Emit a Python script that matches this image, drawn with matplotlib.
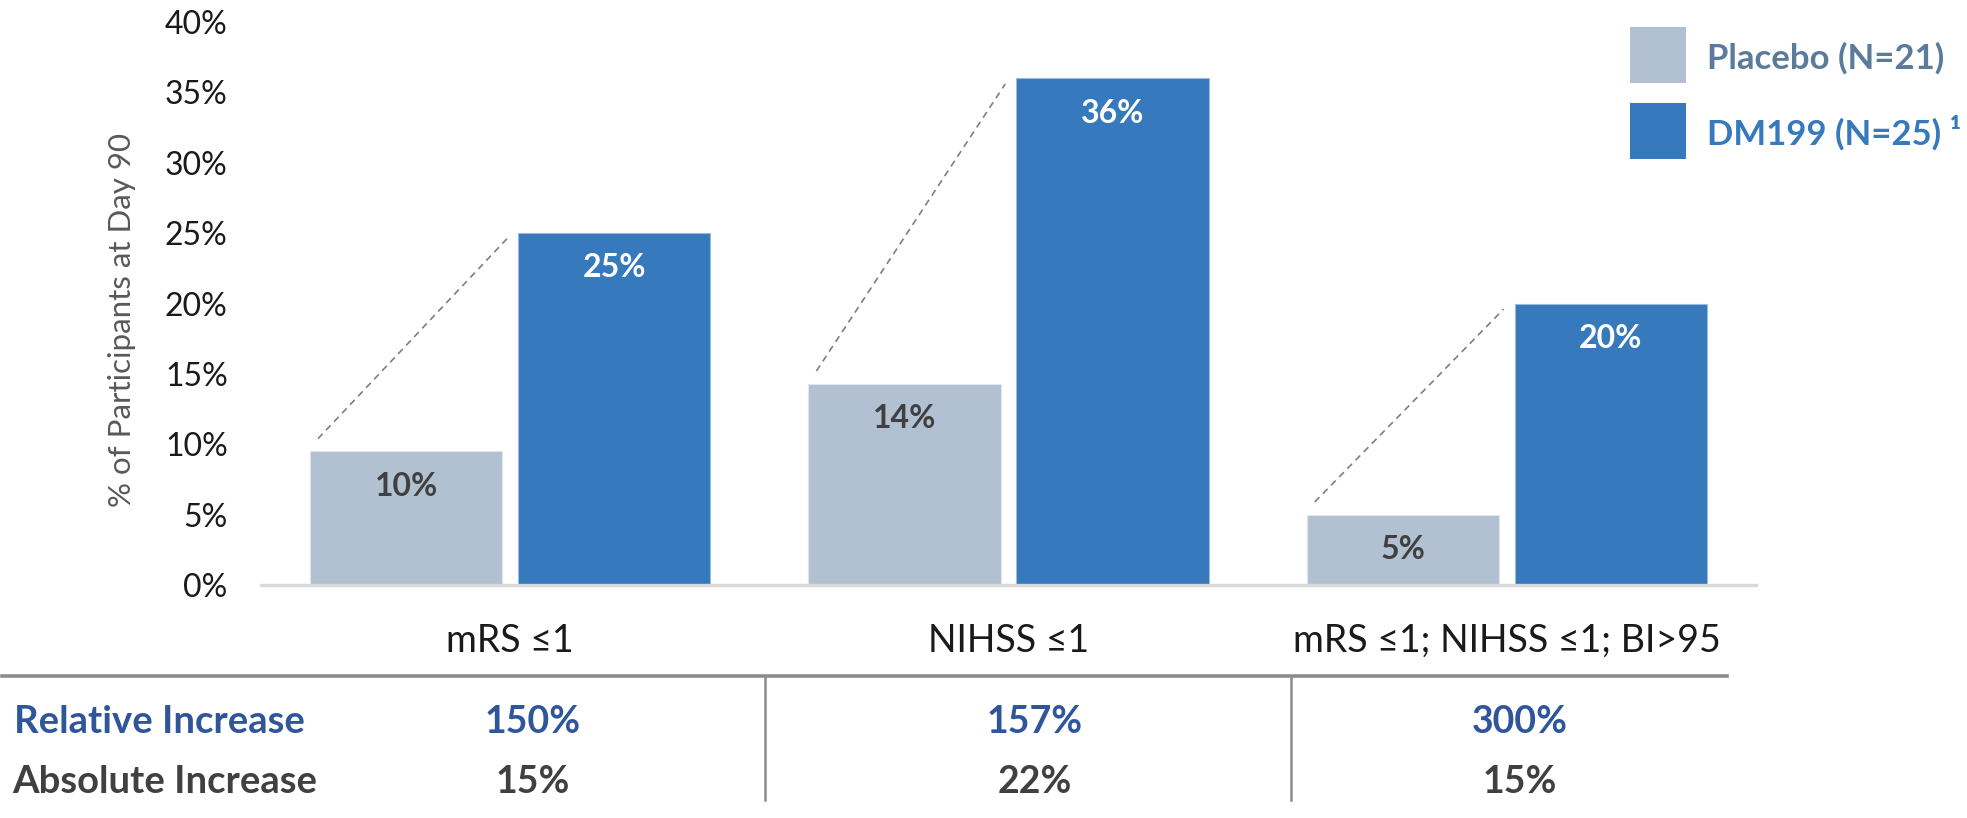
#!/usr/bin/env python3
"""Day-90 outcomes: Placebo vs DM199 grouped bars with an increase table below."""

import matplotlib

matplotlib.use("Agg")
import matplotlib.pyplot as plt  # noqa: E402
import numpy as np  # noqa: E402
from matplotlib.lines import Line2D  # noqa: E402
from matplotlib.patches import Rectangle  # noqa: E402
from matplotlib.transforms import blended_transform_factory  # noqa: E402

plt.rcParams["font.family"] = ["Lato", "DejaVu Sans"]

# ---------------------------------------------------------------------------
# Data
# ---------------------------------------------------------------------------
categories = ["mRS \u22641", "NIHSS \u22641", "mRS \u22641; NIHSS \u22641; BI>95"]
placebo = [9.5, 14.3, 5.0]
dm199 = [25.0, 36.0, 20.0]
placebo_labels = ["10%", "14%", "5%"]
dm199_labels = ["25%", "36%", "20%"]
relative_increase = ["150%", "157%", "300%"]
absolute_increase = ["15%", "22%", "15%"]
yticks = [0, 5, 10, 15, 20, 25, 30, 35, 40]
series_names = ["Placebo (N=21)", "DM199 (N=25) \u00b9"]

PLACEBO_COLOR = "#b1c1d1"
DM_COLOR = "#3679bc"
REL_COLOR = "#2f569b"
DARK = "#404040"

W, H = 1967, 818


def fx(px):
    return px / W


def fy(py):
    return 1 - py / H


fig = plt.figure(figsize=(W / 100, H / 100), dpi=100)
ax = fig.add_axes([fx(261), fy(585), fx(1756) - fx(261), fy(22) - fy(585)])

xs = np.arange(len(categories))
bw = 0.386
off = 0.2085
ax.bar(xs - off, placebo, width=bw, color=PLACEBO_COLOR, edgecolor="#dfe6ee", linewidth=0.8)
ax.bar(xs + off, dm199, width=bw, color=DM_COLOR, edgecolor="#9bbbdc", linewidth=0.8)

for i in range(len(categories)):
    ax.annotate(placebo_labels[i], (xs[i] - off, placebo[i]), xytext=(0, -25),
                textcoords="offset points", ha="center", va="center",
                fontsize=23, fontweight="bold", color=DARK)
    ax.annotate(dm199_labels[i], (xs[i] + off, dm199[i]), xytext=(0, -25),
                textcoords="offset points", ha="center", va="center",
                fontsize=23, fontweight="bold", color="white")
    # dashed connector from placebo top-left to DM199 top-left
    ax.plot([xs[i] - off - bw / 2 + 0.016, xs[i] + off - bw / 2 - 0.022],
            [placebo[i] + 0.9, dm199[i] - 0.4],
            color="#7f7f7f", linewidth=1.2, dashes=(4, 3))

ax.set_xlim(-0.5, 2.5)
ax.set_ylim(0, 40)
ax.set_yticks(yticks)
ax.set_yticklabels([f"{v}%" for v in yticks], fontsize=23, color="#1a1a1a")
ax.tick_params(axis="y", length=0, pad=24)
ax.set_xticks([])
for s in ("top", "right", "left"):
    ax.spines[s].set_visible(False)
ax.spines["bottom"].set_color("#d9d9d9")
ax.spines["bottom"].set_linewidth(2.4)

fig.text(fx(122), fy(320), "% of Participants at Day 90", rotation=90,
         ha="center", va="center", fontsize=22.5, color="#595959")

# category labels below the axis
tr = blended_transform_factory(ax.transData, fig.transFigure)
for i, cat in enumerate(categories):
    ax.text(xs[i], fy(652), cat, transform=tr, ha="center", va="baseline",
            fontsize=27, color="#1a1a1a")

# ---------------------------------------------------------------------------
# Table below
# ---------------------------------------------------------------------------
fig.add_artist(Line2D([fx(2), fx(1727)], [fy(676), fy(676)], color="#8c8c8c", linewidth=2.6))
for sx in (765, 1291):
    fig.add_artist(Line2D([fx(sx), fx(sx)], [fy(677), fy(800)], color="#8c8c8c", linewidth=1.8))

fig.text(fx(14), fy(733), "Relative Increase", ha="left", va="baseline",
         fontsize=27.5, fontweight="bold", color=REL_COLOR)
fig.text(fx(12), fy(793), "Absolute Increase", ha="left", va="baseline",
         fontsize=27.5, fontweight="bold", color=DARK)
value_x = [533, 1035, 1520]
for i in range(len(categories)):
    fig.text(fx(value_x[i]), fy(733), relative_increase[i], ha="center", va="baseline",
             fontsize=27, fontweight="bold", color=REL_COLOR)
    fig.text(fx(value_x[i]), fy(793), absolute_increase[i], ha="center", va="baseline",
             fontsize=27, fontweight="bold", color=DARK)

# ---------------------------------------------------------------------------
# Legend (square swatches + coloured bold labels)
# ---------------------------------------------------------------------------
swatch_colors = [PLACEBO_COLOR, DM_COLOR]
label_colors = ["#5b7b9b", DM_COLOR]
swatch_tops = [27, 103]
for name, sc, lc, top in zip(series_names, swatch_colors, label_colors, swatch_tops):
    fig.add_artist(Rectangle((fx(1630), fy(top + 56)), fx(56), 56 / H,
                             transform=fig.transFigure, facecolor=sc, edgecolor="none"))
    fig.text(fx(1707), fy(top + 42), name, ha="left", va="baseline",
             fontsize=25, fontweight="bold", color=lc)

fig.savefig("out.png", dpi=100)
